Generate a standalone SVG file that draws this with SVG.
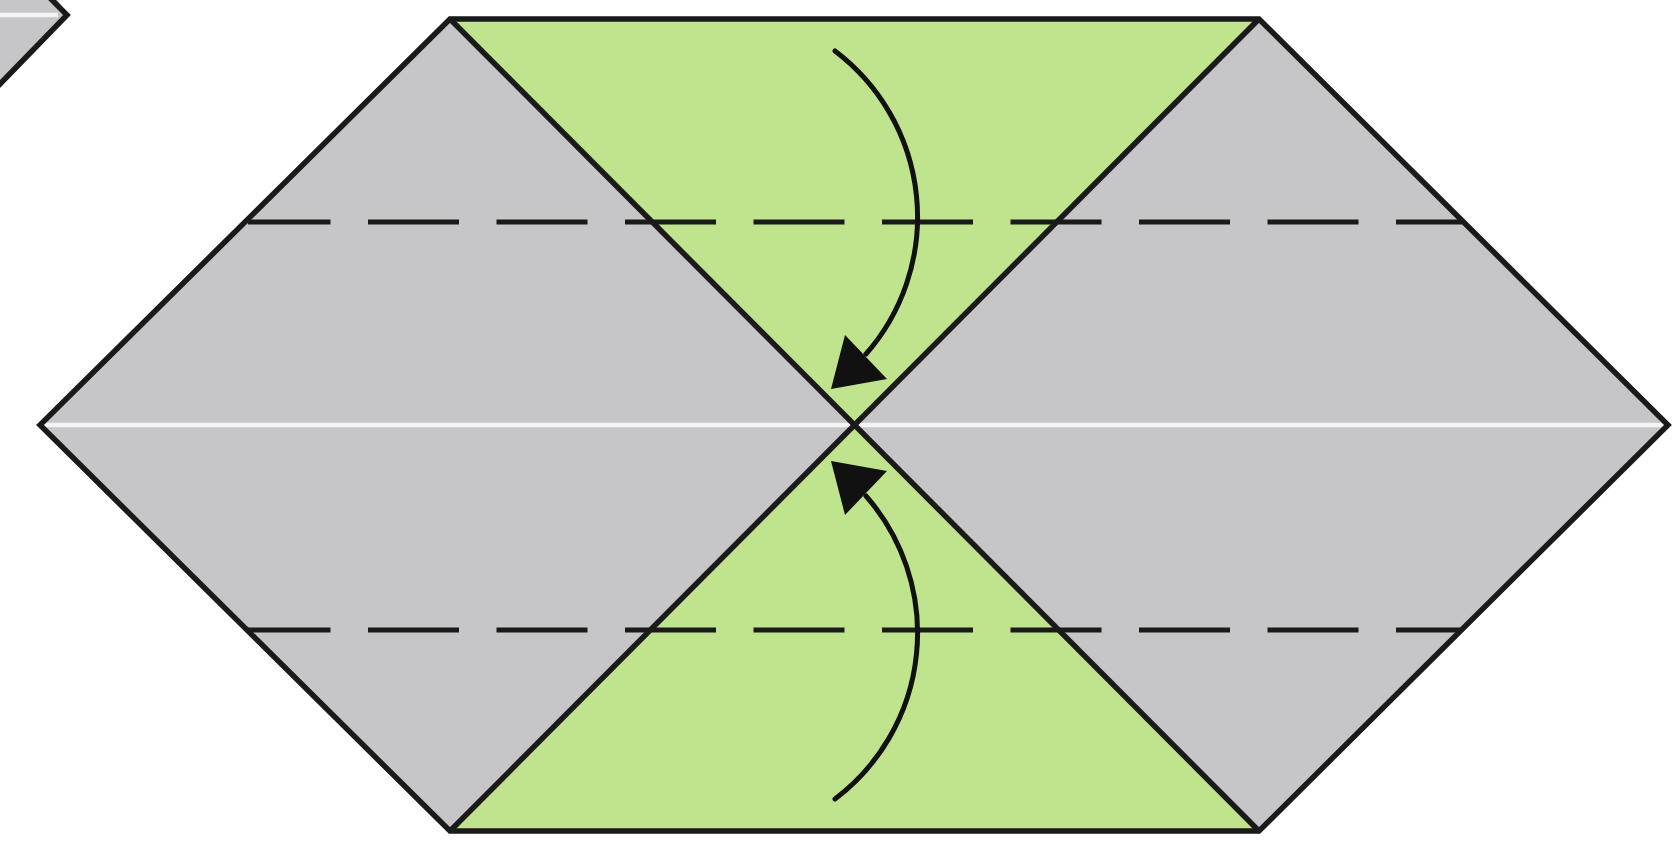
<svg xmlns="http://www.w3.org/2000/svg" width="1679" height="841" viewBox="0 0 1679 841">
<defs>
<style>
.grey{fill:#c6c6c8}
.green{fill:#c0e38e}
.edge{fill:none;stroke:#1a1a1a;stroke-width:5.5;stroke-linejoin:miter}
.crease{stroke:#f4f4f4;stroke-width:4.5}
.valley{stroke:#1a1a1a;stroke-width:5;stroke-dasharray:91 37.5;stroke-dashoffset:8.5;fill:none}
.arrow{fill:none;stroke:#111;stroke-width:5;stroke-linecap:round}
.head{fill:#111}
</style>
</defs>
<rect width="1679" height="841" fill="#ffffff"/>
<g id="corner-fragment">
<polygon class="grey" points="-20,-22 45,-22 67,15 0,84 -20,84"/>
<line class="crease" x1="0" y1="15" x2="58" y2="15"/>
<polyline class="edge" points="45,-7 67,15 -2,86"/>
</g>
<g id="paper">
<polygon class="grey" points="450,19 1259,19 1668,425 1259,831 450,831 40,425"/>
<polygon class="green" points="450,19 1259,19 853,425"/>
<polygon class="green" points="450,831 1259,831 853,425"/>
<line class="crease" x1="44" y1="425" x2="1664" y2="425"/>
<line class="edge" x1="450" y1="19" x2="1259" y2="831"/>
<line class="edge" x1="1259" y1="19" x2="450" y2="831"/>
<polygon class="edge" points="450,19 1259,19 1668,425 1259,831 450,831 40,425"/>
</g>
<g id="folds">
<line class="valley" x1="248" y1="222" x2="1462" y2="222"/>
<line class="valley" x1="248" y1="630" x2="1462" y2="630"/>
</g>
<g id="connectors">
<path class="arrow" d="M835 51 A 208 208 0 0 1 866 354"/>
<polygon class="head" points="831,389 845,335 887,379"/>
<path class="arrow" d="M835 799 A 208 208 0 0 0 866 496"/>
<polygon class="head" points="831,461 845,515 887,471"/>
</g>
</svg>
